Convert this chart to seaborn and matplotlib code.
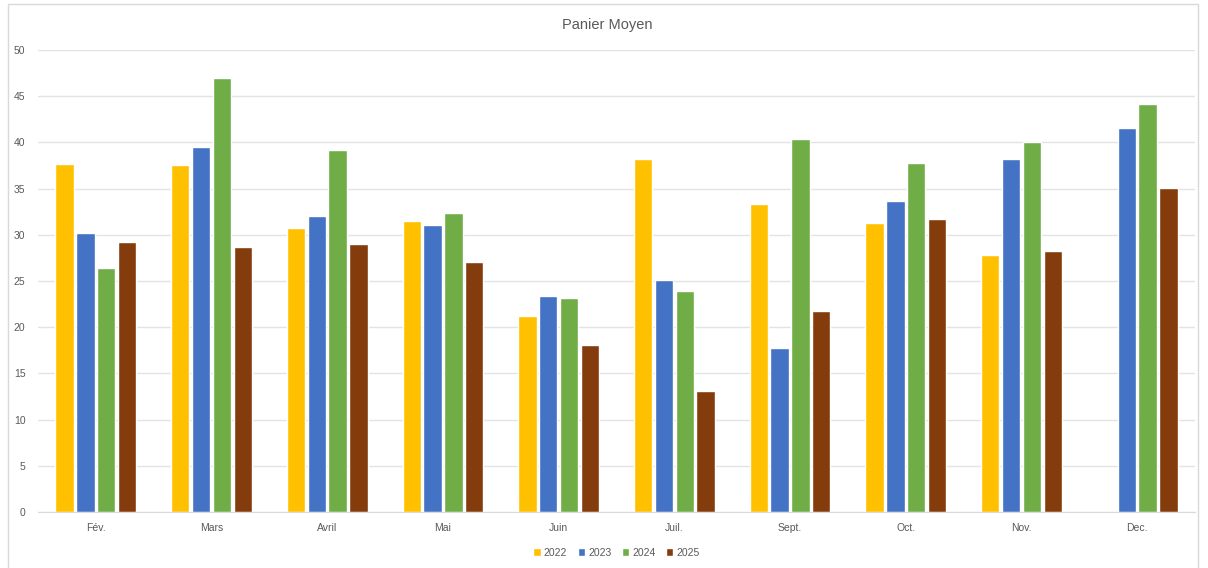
import pandas as pd
import numpy as np
import matplotlib.pyplot as plt
import seaborn as sns
from matplotlib.patches import Rectangle

mois = ['Fév.', 'Mars', 'Avril', 'Mai', 'Juin', 'Juil.', 'Sept.', 'Oct.', 'Nov.', 'Dec.']
annees = ['2022', '2023', '2024', '2025']
v2022 = [37.7, 37.6, 30.7, 31.5, 21.2, 38.2, 33.3, 31.3, 27.8, np.nan]
v2023 = [30.2, 39.5, 32.0, 31.1, 23.4, 25.1, 17.8, 33.7, 38.2, 41.6]
v2024 = [26.4, 47.0, 39.2, 32.4, 23.2, 23.9, 40.4, 37.8, 40.0, 44.2]
v2025 = [29.2, 28.7, 29.0, 27.1, 18.1, 13.1, 21.8, 31.7, 28.2, 35.1]
couleurs = ['#FFC000', '#4472C4', '#70AD47', '#843C0C']

df = pd.DataFrame({'Mois': mois * 4,
                   'Annee': np.repeat(annees, len(mois)),
                   'Valeur': v2022 + v2023 + v2024 + v2025})

sns.set_style('white')
plt.rcParams['font.family'] = ['Liberation Sans', 'DejaVu Sans']

fig = plt.figure(figsize=(12.08, 5.68), dpi=100)
ax = fig.add_axes([38 / 1208, 56 / 568, 1157 / 1208, 462 / 568])

sns.barplot(data=df, x='Mois', y='Valeur', hue='Annee', order=mois, hue_order=annees,
            palette=couleurs, width=0.72, gap=0.12, ax=ax, saturation=1, legend=True)

ax.set_ylim(0, 50)
ax.set_xlim(-0.5, len(mois) - 0.5)
ax.set_yticks(range(0, 51, 5))
ax.yaxis.grid(True, color='#E3E3E3', linewidth=1)
ax.set_axisbelow(True)
for s in ['left', 'right', 'top']:
    ax.spines[s].set_visible(False)
ax.spines['bottom'].set_color('#D9D9D9')
ax.tick_params(axis='both', length=0, labelsize=7.5, colors='#595959')
ax.tick_params(axis='x', pad=8)
ax.tick_params(axis='y', pad=9)
ax.set_xlabel('')
ax.set_ylabel('')

fig.text(0.503, 1 - 25 / 568, 'Panier Moyen', ha='center', va='center', fontsize=10.5, color='#595959')

leg = ax.legend(loc='center', bbox_to_anchor=(0.5, -0.088), ncol=4, frameon=False,
                fontsize=7.5, handlelength=0.7, handleheight=0.7, handletextpad=0.3,
                columnspacing=1.0)
for t in leg.get_texts():
    t.set_color('#595959')

fig.patches.append(Rectangle((8 / 1208, -0.01), 1190 / 1208, 1 - 4 / 568 + 0.01,
                             transform=fig.transFigure, fill=False,
                             edgecolor='#D9D9D9', linewidth=1))

fig.savefig('out.png', dpi=100)
